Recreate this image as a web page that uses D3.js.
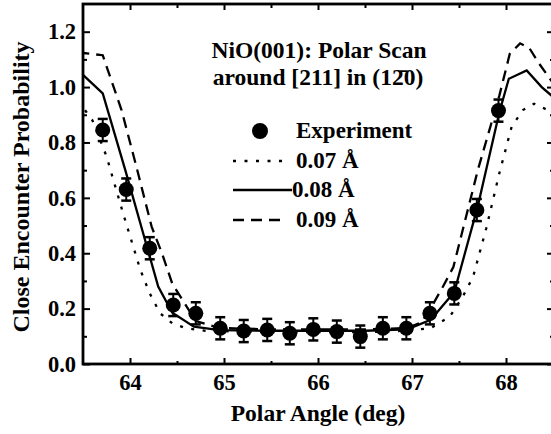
<!DOCTYPE html>
<html>
<head>
<meta charset="utf-8">
<script src="https://cdn.jsdelivr.net/npm/d3@7"></script>
<style>
  body { margin: 0; background: #fff; }
</style>
</head>
<body>
<div id="chart"></div>
<script>
// experiment: polar angle (deg), close encounter probability, error
const expAngle = [63.71, 63.96, 64.21, 64.46, 64.70, 64.96, 65.21, 65.46, 65.70, 65.95, 66.20, 66.45, 66.69, 66.94, 67.19, 67.45, 67.69, 67.92];
const expProb  = [0.845, 0.63, 0.418, 0.213, 0.183, 0.129, 0.119, 0.123, 0.111, 0.125, 0.117, 0.099, 0.129, 0.129, 0.183, 0.255, 0.556, 0.915];
const expErr   = [0.04, 0.04, 0.04, 0.04, 0.04, 0.04, 0.04, 0.04, 0.04, 0.04, 0.04, 0.04, 0.04, 0.04, 0.04, 0.04, 0.04, 0.04];

// simulations, vibration amplitude 0.07 / 0.08 / 0.09 A
const sim07Angle = [63.45, 63.6, 63.75, 63.93, 64.11, 64.21, 64.32, 64.45, 64.6, 64.8, 65.5, 66.5, 66.95, 67.2, 67.4, 67.54, 67.65, 67.79, 67.93, 68.06, 68.18, 68.3, 68.55];
const sim07Prob  = [0.95, 0.88, 0.75, 0.54, 0.34, 0.255, 0.183, 0.147, 0.129, 0.12, 0.115, 0.115, 0.12, 0.13, 0.17, 0.243, 0.315, 0.49, 0.69, 0.857, 0.917, 0.94, 0.9];

const sim08Angle = [63.45, 63.71, 63.95, 64.2, 64.3, 64.45, 64.68, 64.95, 65.5, 66.0, 66.5, 66.95, 67.2, 67.45, 67.7, 67.93, 68.03, 68.22, 68.38, 68.55];
const sim08Prob  = [1.06, 0.977, 0.70, 0.40, 0.28, 0.185, 0.135, 0.122, 0.12, 0.12, 0.12, 0.125, 0.16, 0.26, 0.57, 0.91, 1.03, 1.06, 1.0, 0.95];

const sim09Angle = [63.45, 63.71, 63.91, 64.07, 64.23, 64.34, 64.45, 64.7, 64.95, 65.5, 66.5, 66.95, 67.1, 67.23, 67.33, 67.44, 67.7, 67.93, 68.04, 68.15, 68.25, 68.35, 68.55];
const sim09Prob  = [1.125, 1.115, 0.917, 0.71, 0.496, 0.40, 0.29, 0.155, 0.13, 0.125, 0.125, 0.13, 0.15, 0.22, 0.28, 0.35, 0.70, 0.97, 1.12, 1.158, 1.14, 1.086, 0.99];

const xTicks = [64, 65, 66, 67, 68];
const yTicks = [0, 0.2, 0.4, 0.6, 0.8, 1.0, 1.2];
const legendLabels = ["Experiment", "0.07 Å", "0.08 Å", "0.09 Å"];

const FONT = '"Liberation Serif", "Times New Roman", "DejaVu Serif", serif';

const W = 551, H = 434;
const margin = { top: 4, right: -2, bottom: 70, left: 83 };
const width = W - margin.left - margin.right;
const height = H - margin.top - margin.bottom;

const svg = d3.select("#chart").append("svg")
  .attr("width", W).attr("height", H)
  .style("font-family", FONT);

const g = svg.append("g").attr("transform", `translate(${margin.left},${margin.top})`);

const x = d3.scaleLinear().domain([63.5, 68.5]).range([0, width]);
const y = d3.scaleLinear().domain([0, 1.3]).range([height, 0]);

// clip for curves
svg.append("defs").append("clipPath").attr("id", "clip")
  .append("rect").attr("width", width).attr("height", height);

// axes: ticks point inward
const fmt = d3.format(".1f");
const left = g.append("g").call(d3.axisLeft(y).tickValues(yTicks).tickSize(-7).tickSizeOuter(0).tickPadding(7).tickFormat(fmt));
g.append("g").call(d3.axisLeft(y).tickValues(d3.range(0.1, 1.3, 0.2)).tickSize(-4).tickSizeOuter(0).tickFormat(""));
g.append("g").attr("transform", `translate(${width},0)`)
  .call(d3.axisRight(y).tickValues(yTicks).tickSize(-6).tickSizeOuter(0).tickFormat(""));
g.append("g").attr("transform", `translate(${width},0)`)
  .call(d3.axisRight(y).tickValues(d3.range(0.1, 1.3, 0.2)).tickSize(-3).tickSizeOuter(0).tickFormat(""));

const bottom = g.append("g").attr("transform", `translate(0,${height})`)
  .call(d3.axisBottom(x).tickValues(xTicks).tickSize(-6).tickSizeOuter(0).tickPadding(10).tickFormat(d3.format("d")));
g.append("g").attr("transform", `translate(0,${height})`)
  .call(d3.axisBottom(x).tickValues([64.5, 65.5, 66.5, 67.5]).tickSize(-3).tickSizeOuter(0).tickFormat(""));
g.append("g").call(d3.axisTop(x).tickValues(xTicks).tickSize(-6).tickSizeOuter(0).tickFormat(""));
g.append("g").call(d3.axisTop(x).tickValues([64.5, 65.5, 66.5, 67.5]).tickSize(-4).tickSizeOuter(0).tickFormat(""));

g.selectAll(".domain").remove();
g.selectAll("g").attr("font-family", null);
g.selectAll(".tick line").attr("stroke", "#000").attr("stroke-width", 2);
left.selectAll("text").style("font-size", "22.5px");
bottom.selectAll("text").style("font-size", "22.5px");

// frame
g.append("rect").attr("width", width).attr("height", height)
  .attr("fill", "none").attr("stroke", "#000").attr("stroke-width", 2.8);

// axis titles
svg.append("text")
  .attr("transform", `translate(29,${margin.top + height / 2 + 3}) rotate(-90)`)
  .attr("text-anchor", "middle")
  .style("font-size", "24px")
  .text("Close Encounter Probability");

svg.append("text")
  .attr("x", 318).attr("y", 421)
  .attr("text-anchor", "middle")
  .style("font-size", "23.5px")
  .text("Polar Angle (deg)");

// curves
const line = d3.line().x(d => x(d[0])).y(d => y(d[1]));
const curves = [
  { a: sim07Angle, p: sim07Prob, dash: "3,8.5" },
  { a: sim08Angle, p: sim08Prob, dash: null },
  { a: sim09Angle, p: sim09Prob, dash: "11,7" }
];
const cg = g.append("g").attr("clip-path", "url(#clip)");
curves.forEach(c => {
  cg.append("path")
    .datum(c.a.map((v, i) => [v, c.p[i]]))
    .attr("d", line)
    .attr("fill", "none")
    .attr("stroke", "#000")
    .attr("stroke-width", 2.3)
    .attr("stroke-dasharray", c.dash);
});

// experiment with error bars
const exp = expAngle.map((a, i) => ({ a, p: expProb[i], e: expErr[i] }));
const pts = g.append("g").selectAll("g").data(exp).join("g")
  .attr("transform", d => `translate(${x(d.a)},0)`);
pts.append("line")
  .attr("y1", d => y(d.p - d.e)).attr("y2", d => y(d.p + d.e))
  .attr("stroke", "#000").attr("stroke-width", 2);
pts.append("line")
  .attr("x1", -5).attr("x2", 5)
  .attr("y1", d => y(d.p + d.e)).attr("y2", d => y(d.p + d.e))
  .attr("stroke", "#000").attr("stroke-width", 2.5);
pts.append("line")
  .attr("x1", -5).attr("x2", 5)
  .attr("y1", d => y(d.p - d.e)).attr("y2", d => y(d.p - d.e))
  .attr("stroke", "#000").attr("stroke-width", 2.5);
pts.append("circle")
  .attr("cy", d => y(d.p)).attr("r", 7.5).attr("fill", "#000");

// title
const title = svg.append("text").attr("text-anchor", "middle").style("font-size", "23.5px");
title.append("tspan").attr("x", 319).attr("y", 58).text("NiO(001): Polar Scan");
title.append("tspan").attr("x", 318).attr("y", 85).text("around [211] in (12\u03040)");

// legend
const lg = svg.append("g");
const rows = [138, 168, 197, 227];
lg.append("circle").attr("cx", 260).attr("cy", rows[0] - 7).attr("r", 8).attr("fill", "#000");
[["3,8.5", 283], [null, 292], ["11,7", 283]].forEach(([dash, x2], i) => {
  lg.append("line")
    .attr("x1", 233).attr("x2", x2)
    .attr("y1", rows[i + 1] - 7).attr("y2", rows[i + 1] - 7)
    .attr("stroke", "#000").attr("stroke-width", 2.3)
    .attr("stroke-dasharray", dash);
});
lg.selectAll("text").data(legendLabels).join("text")
  .attr("x", (d, i) => i === 2 ? 292 : 296)
  .attr("y", (d, i) => rows[i])
  .style("font-size", "23px")
  .text(d => d);

svg.selectAll("text").style("font-weight", "bold").attr("fill", "#000");
</script>
</body>
</html>
